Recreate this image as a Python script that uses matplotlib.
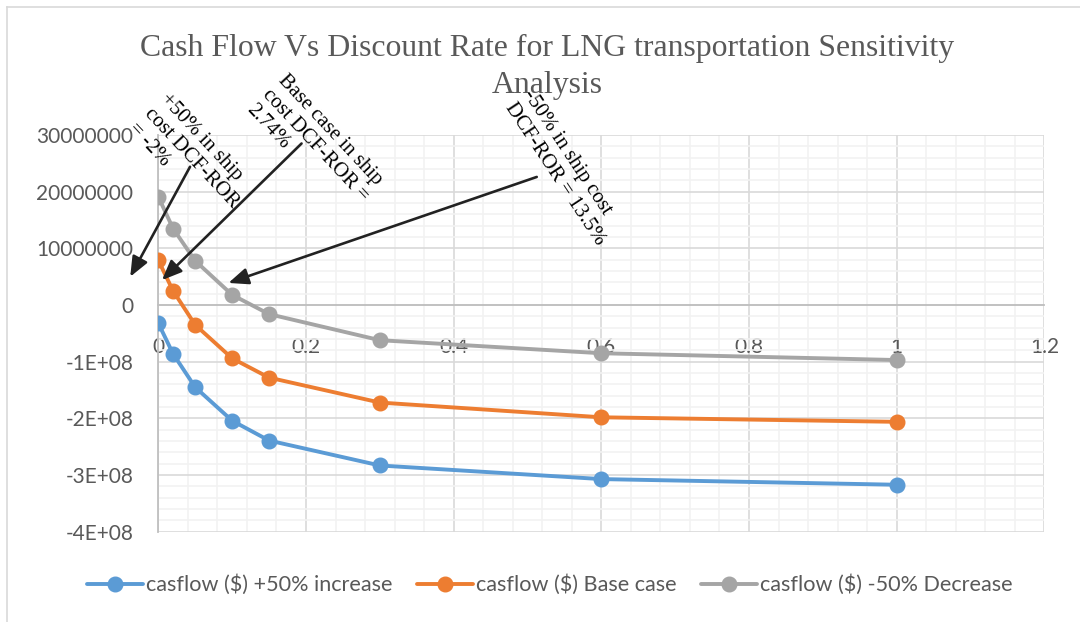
import matplotlib.pyplot as plt
from matplotlib.ticker import MultipleLocator
from matplotlib.lines import Line2D

# discount rate (x) and cash flow ($) for the three ship-cost cases
discount_rate = [0, 0.02, 0.05, 0.1, 0.15, 0.3, 0.6, 1.0]
cf_plus50 = [-32e6, -86e6, -145e6, -204e6, -239e6, -283e6, -307e6, -317e6]
cf_base = [79e6, 25e6, -35e6, -94e6, -128e6, -172e6, -198e6, -206e6]
cf_minus50 = [191e6, 135e6, 78e6, 18e6, -16e6, -62e6, -85e6, -97e6]

series_names = ['casflow ($) +50% increase', 'casflow ($) Base case',
                'casflow ($) -50% Decrease']
series_colors = ['#5B9BD5', '#ED7D31', '#A5A5A5']

xtick_values = [0, 0.2, 0.4, 0.6, 0.8, 1.0, 1.2]
xtick_labels = ['0', '0.2', '0.4', '0.6', '0.8', '1', '1.2']
ytick_values = [-4e8, -3e8, -2e8, -1e8, 0, 1e8, 2e8, 3e8]
ytick_labels = ['-4E+08', '-3E+08', '-2E+08', '-1E+08', '0',
                '10000000', '20000000', '30000000']

# callouts: text, arrow tip and arrow tail (data units)
notes = ['+50% in ship\ncost DCF-ROR\n= -2%',
         'Base case in ship\ncost DCF-ROR =\n2.74%',
         '-50% in ship cost\nDCF-ROR = 13.5%']
note_tips = [(-0.038, 0.50e8), (0.005, 0.44e8), (0.095, 0.39e8)]
note_tails = [(0.043, 2.44e8), (0.194, 2.85e8), (0.5125, 2.26e8)]

W, H = 1080, 622
sans = ['Lato', 'DejaVu Sans']
serif = ['Liberation Serif', 'DejaVu Serif']
grey_txt = '#595959'

plt.rcParams['font.family'] = sans


def px(x, y):
    return x / W, 1 - y / H


fig = plt.figure(figsize=(W / 100, H / 100), dpi=100)
ax = fig.add_axes([158.3 / W, 1 - 531.8 / H, 886.1 / W, 396.8 / H])

# x axis crosses at y = 0 (set before the tick labels, it resets them)
for s in ['top', 'right']:
    ax.spines[s].set_visible(False)
ax.spines['bottom'].set_position(('data', 0))
for s in ['left', 'bottom']:
    ax.spines[s].set_color('#BFBFBF')
    ax.spines[s].set_linewidth(1.3)

for vals, name, col in zip([cf_plus50, cf_base, cf_minus50], series_names, series_colors):
    ax.plot(discount_rate, vals, color=col, lw=2.8, marker='o', ms=10.5,
            label=name, solid_capstyle='round', zorder=3)

ax.set_xlim(0, 1.2)
ax.set_ylim(-4e8, 3e8)
ax.set_xticks(xtick_values)
ax.set_xticklabels(xtick_labels)
ax.set_yticks(ytick_values)
ax.set_yticklabels(ytick_labels)
ax.xaxis.set_minor_locator(MultipleLocator(0.04))
ax.yaxis.set_minor_locator(MultipleLocator(2e7))
ax.tick_params(which='both', length=0, labelsize=15, labelcolor=grey_txt)
ax.tick_params(axis='x', pad=23)
ax.tick_params(axis='y', pad=18)

ax.grid(which='minor', color='#F2F2F2', lw=1.2)
ax.grid(which='major', color='#D9D9D9', lw=1.2)
ax.set_axisbelow(True)

fig.text(*px(547.5, 93),
         'Cash Flow Vs Discount Rate for LNG transportation Sensitivity\nAnalysis',
         ha='center', va='baseline', family=serif, fontsize=22.9,
         color=grey_txt, linespacing=1.38)

# callout arrows and rotated notes
for tip, tail in zip(note_tips, note_tails):
    ax.annotate('', xy=tip, xytext=tail, xycoords='data', textcoords='data',
                annotation_clip=False,
                arrowprops=dict(arrowstyle='-|>,head_length=0.6,head_width=0.25',
                                mutation_scale=20, color='#222222', lw=1.9,
                                shrinkA=0, shrinkB=0))

note_pos = [(170, 90), (288, 71), (535, 87)]
note_rot = [-47, -47, -56.5]
for txt, pos, rot in zip(notes, note_pos, note_rot):
    fig.text(*px(*pos), txt, rotation=rot, rotation_mode='anchor',
             ha='left', va='top', multialignment='left', family=serif,
             fontsize=15, color='black', linespacing=1.2)

fig.legend(loc='center', bbox_to_anchor=px(550, 585), ncol=3, frameon=False,
           prop={'family': sans, 'size': 15.6}, labelcolor=grey_txt,
           handlelength=2.55, handletextpad=0.15, columnspacing=1.15, numpoints=1)

# chart-area border
fig.add_artist(Line2D([7 / W, 1], [1 - 7 / H, 1 - 7 / H], color='#D9D9D9', lw=1.2))
fig.add_artist(Line2D([7 / W, 7 / W], [0, 1 - 7 / H], color='#D9D9D9', lw=1.2))

fig.savefig('out.png', dpi=100)
